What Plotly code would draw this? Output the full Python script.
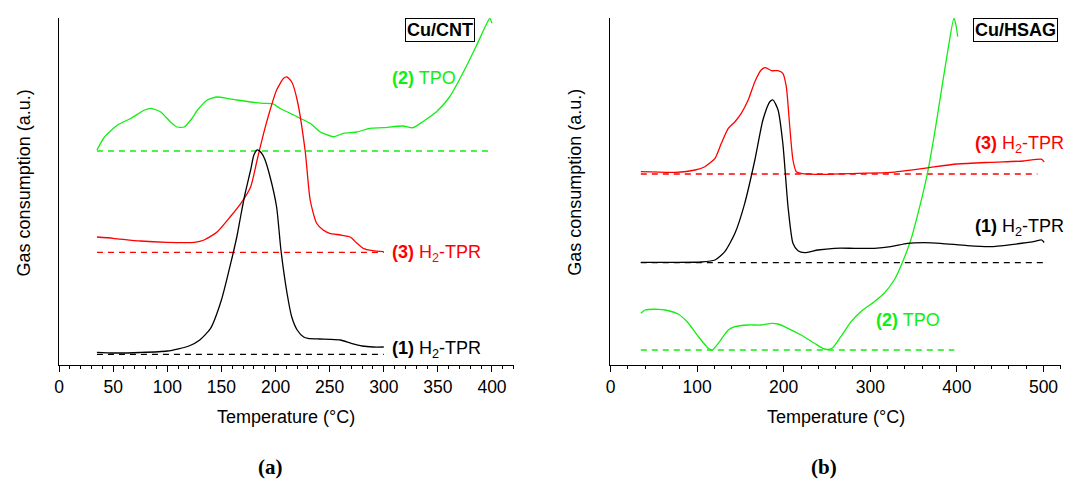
import plotly.graph_objects as go

# ---------------- Data (a) Cu/CNT ----------------
a_tpr1_T = [35, 50, 75, 100, 120, 130, 140, 150, 160, 164.6, 168, 172, 177, 180, 183, 187, 190, 195, 201, 205, 210.6, 215, 220, 226, 230, 240, 250, 260, 270, 280, 290, 300]
a_tpr1_y = [12.7, 12, 12.5, 14, 19, 25, 36.7, 65, 108, 130, 150, 172, 195, 210, 215, 212, 206, 188, 158, 115, 72, 48, 35, 28, 26.7, 26, 25.7, 25, 21.7, 19, 18, 18]
a_tpr1_base = [10.7, 10.7]

a_tpr3_T = [35, 50, 75, 100, 125, 134, 146, 158, 168, 177, 183, 189, 195, 201, 207.5, 210.6, 215, 220, 227.4, 232, 238, 244, 250, 260, 269, 275, 281, 290, 300]
a_tpr3_y = [128, 126.7, 124, 122.7, 122.7, 125, 133, 148, 161.7, 178, 205, 231.7, 255, 275, 286.7, 288, 283, 265, 214, 165, 141.7, 135, 131.7, 130, 128, 122, 116.7, 114.3, 113.3]
a_tpr3_base = [112.7, 112.7]

a_tpo_T = [35, 42, 54, 66.5, 79, 85, 94, 103, 109, 115.6, 121.7, 128, 137, 146, 155, 164.6, 177, 189, 198, 204, 213.6, 222.8, 232, 241, 253.5, 262.7, 275, 287, 299.5, 317.8, 327, 336, 348.5, 360.8, 373, 385, 394.5, 398, 400]
a_tpo_y = [215, 228, 240, 246.7, 255, 256.7, 253, 243, 238, 238, 245, 255, 265, 268, 266.7, 265, 263, 261.7, 261, 256.7, 251.7, 246.7, 241.7, 233.3, 228.3, 231.7, 233, 236.7, 237.3, 239, 237.3, 243.3, 253, 268, 291.7, 318, 340, 346.7, 341.7]
a_tpo_base = [214, 214]

# ---------------- Data (b) Cu/HSAG ----------------
b_tpr1_T = [35, 70, 105, 120.7, 132, 143.7, 155, 166.7, 176, 184, 187.7, 193.5, 199, 205, 210.7, 216.5, 224, 239.5, 258.6, 281.6, 304.6, 323.7, 343, 362, 381, 412, 438.7, 465.5, 488.5, 498, 500.8]
b_tpr1_y = [102.7, 102.7, 103, 105, 113.3, 131.7, 161.7, 205, 245, 263.3, 265, 255, 221.7, 158.3, 121.7, 114.3, 112.3, 115, 116.7, 116.7, 116.7, 118.3, 121.7, 122.3, 121.7, 119.3, 118.3, 120.7, 123.3, 125, 122.5]
b_tpr1_base = [102.3, 102.3]

b_tpr3_T = [35, 74.7, 97.7, 109, 120.7, 128, 136, 143.7, 151, 159, 166.7, 174, 179, 186, 193.5, 199, 203, 207, 210.7, 214.6, 220, 247, 285, 323.7, 362, 400, 438.7, 477, 498, 500.8]
b_tpr3_y = [193.3, 192.7, 195, 198.3, 206.7, 221.7, 236.7, 243.3, 251.7, 265, 283.3, 295, 297.3, 294.3, 294.3, 291.7, 278.3, 238.3, 205, 193.3, 191.7, 190.7, 191.7, 192.7, 196.7, 201, 202.7, 204, 205.7, 203]
b_tpr3_base = [191, 191]

b_tpo_T = [35, 40, 55.5, 63, 78.5, 90, 101.5, 113, 117.6, 124.5, 136, 143.7, 159, 174, 186, 193.5, 205, 220, 235.6, 245, 251, 256.7, 266, 277.8, 289, 304.6, 316, 327.6, 335, 346.7, 358, 366, 373.6, 381, 389, 396.5, 398.5, 401]
b_tpo_y = [51.7, 55, 55.7, 55, 50.7, 41.7, 28.3, 16.7, 15, 21.7, 35, 38.3, 40, 40, 41.7, 41, 36.7, 30, 21.7, 16.7, 15.5, 17.3, 28.3, 43.3, 53.3, 63.3, 71.7, 85, 98.3, 125, 161.7, 191.7, 228.3, 268.3, 311.7, 346.7, 341.7, 328.3]
b_tpo_base = [15, 15]

a_base_T = {"tpr1": [35, 300], "tpr3": [35, 300], "tpo": [35, 400]}
b_base_T = {"tpr1": [35, 500], "tpr3": [35, 493], "tpo": [35, 397]}

GREEN = "#11ee11"
RED = "#ff0000"
BLACK = "#000000"

fig = go.Figure()

def add(T, y, color, xa, ya, dash=None):
    fig.add_trace(go.Scatter(x=T, y=y, mode="lines", xaxis=xa, yaxis=ya,
                             line=dict(color=color, width=1.3, dash=dash or "solid",
                                       shape="linear" if dash else "spline", smoothing=0.6),
                             showlegend=False, hoverinfo="skip"))

DASH = "6px,5px"
# panel a
add(a_base_T["tpo"], a_tpo_base, GREEN, "x", "y", DASH)
add(a_base_T["tpr3"], a_tpr3_base, RED, "x", "y", DASH)
add(a_base_T["tpr1"], a_tpr1_base, BLACK, "x", "y", DASH)
add(a_tpo_T, a_tpo_y, GREEN, "x", "y")
add(a_tpr3_T, a_tpr3_y, RED, "x", "y")
add(a_tpr1_T, a_tpr1_y, BLACK, "x", "y")
# panel b
add(b_base_T["tpo"], b_tpo_base, GREEN, "x2", "y2", DASH)
add(b_base_T["tpr3"], b_tpr3_base, RED, "x2", "y2", DASH)
add(b_base_T["tpr1"], b_tpr1_base, BLACK, "x2", "y2", DASH)
add(b_tpo_T, b_tpo_y, GREEN, "x2", "y2")
add(b_tpr3_T, b_tpr3_y, RED, "x2", "y2")
add(b_tpr1_T, b_tpr1_y, BLACK, "x2", "y2")

FONT = "Liberation Sans, Arial, sans-serif"
W, H = 1085, 480

def xaxis_style(dom, rng, dtick, minor):
    return dict(domain=dom, range=rng, dtick=dtick, tick0=0, showline=True, linecolor="black",
                linewidth=1.3, ticks="outside", ticklen=6, tickwidth=1.2, tickcolor="black",
                showgrid=False, zeroline=False, mirror=False,
                tickfont=dict(family=FONT, size=17.5, color="black"),
                minor=dict(dtick=minor, ticks="outside", ticklen=3, tickwidth=1, tickcolor="black", showgrid=False))

def yaxis_style(anchor):
    return dict(domain=[115 / H, 1 - 18 / H], range=[0, 347], showline=True, linecolor="black",
                linewidth=1.3, showticklabels=False, ticks="", showgrid=False, zeroline=False,
                anchor=anchor)

fig.update_layout(
    width=W, height=H, margin=dict(l=0, r=0, t=0, b=0),
    paper_bgcolor="white", plot_bgcolor="white",
    xaxis=dict(**xaxis_style([54.3 / W, 511 / W], [0, 420], 50, 10), anchor="y"),
    yaxis=yaxis_style("x"),
    xaxis2=dict(**xaxis_style([608.3 / W, 1060.7 / W], [0, 520], 100, 20), anchor="y2"),
    yaxis2=yaxis_style("x2"),
)

def px(xp, yp):
    return xp / W, 1 - yp / H

ann = []
def text_ann(xp, yp, text, size=18, family=FONT, xanchor="center", angle=0, color="black", **kw):
    x, y = px(xp, yp)
    ann.append(dict(x=x, y=y, xref="paper", yref="paper", text=text, showarrow=False,
                    xanchor=xanchor, yanchor="middle", textangle=angle,
                    font=dict(family=family, size=size, color=color), **kw))

# axis titles
text_ann(282.5, 417, "Temperature (°C)")
text_ann(834.5, 417, "Temperature (°C)")
text_ann(20, 182.5, "Gas consumption (a.u.)", angle=-90)
text_ann(573, 182.5, "Gas consumption (a.u.)", angle=-90)
# panel letters
text_ann(267, 467, "<b>(a)</b>", size=21, family="Liberation Serif, serif")
text_ann(823, 467, "<b>(b)</b>", size=21, family="Liberation Serif, serif")
# sample boxes
text_ann(436.7, 30, "<b>Cu/CNT</b>", bordercolor="black", borderwidth=1, borderpad=1, bgcolor="white")
text_ann(1015, 30, "<b>Cu/HSAG</b>", bordercolor="black", borderwidth=1, borderpad=1, bgcolor="white")

# curve labels (data coordinates)
def curve_label(xa, ya, T, h, text, color):
    ann.append(dict(x=T, y=h, xref=xa, yref=ya, text=text, showarrow=False, xanchor="left",
                    yanchor="middle", font=dict(family=FONT, size=18, color=color)))

curve_label("x", "y", 306, 287, "<b>(2)</b> TPO", GREEN)
curve_label("x", "y", 306, 112, "<b>(3)</b> H<sub>2</sub>-TPR", RED)
curve_label("x", "y", 306, 16, "<b>(1)</b> H<sub>2</sub>-TPR", BLACK)
curve_label("x2", "y2", 419, 221, "<b>(3)</b> H<sub>2</sub>-TPR", RED)
curve_label("x2", "y2", 419, 138, "<b>(1)</b> H<sub>2</sub>-TPR", BLACK)
curve_label("x2", "y2", 304, 45, "<b>(2)</b> TPO", GREEN)

fig.update_layout(annotations=ann)
fig.write_html("out.html")
